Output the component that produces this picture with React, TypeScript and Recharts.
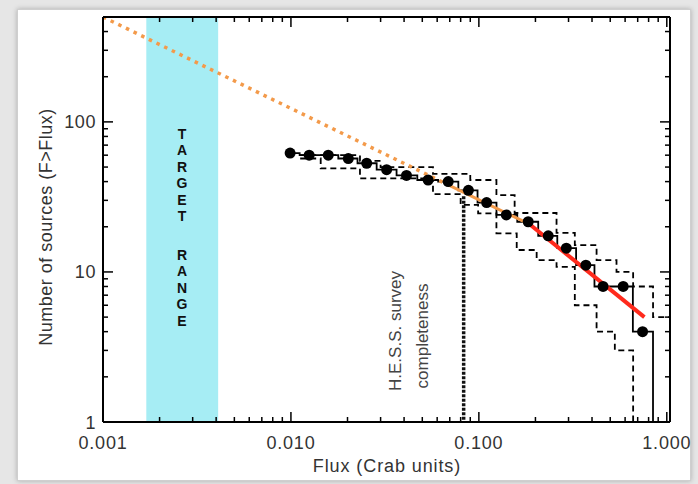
import React from 'react';
import { ComposedChart, Line, Scatter, XAxis, YAxis, ReferenceArea } from 'recharts';

// cumulative source counts N(>F)
const pointFlux = [0.0099, 0.0125, 0.0158, 0.0202, 0.0253, 0.0323, 0.0412, 0.0537, 0.0687, 0.088, 0.11, 0.14, 0.183, 0.234, 0.292, 0.371, 0.458, 0.586, 0.743];
const pointCount = [62, 60, 60, 57, 53, 48, 44, 41, 40, 35, 29, 24, 21.6, 17.4, 14.4, 11.1, 8, 8, 4];

// solid histogram closes down to the axis after the last source
const stepEndFlux = 0.96;
const stepEndCount = 1;

// dashed uncertainty envelopes (step edges)
const upperFlux = [0.0112, 0.0233, 0.03, 0.057, 0.09, 0.124, 0.155, 0.259, 0.324, 0.423, 0.54, 0.662, 0.845, 1.04];
const upperCount = [60, 55, 50, 45, 41, 32.5, 24.7, 18.2, 15.1, 12, 10, 8, 5, 5];
const lowerFlux = [0.0112, 0.0144, 0.0233, 0.057, 0.08, 0.0991, 0.124, 0.159, 0.203, 0.259, 0.324, 0.423, 0.529, 0.662, 0.7];
const lowerCount = [57, 49, 42, 33, 28, 24.6, 18.1, 14, 12, 10.8, 6, 4, 3, 1, 1];

// power-law fits
const extrapFlux = [0.001, 0.07];
const extrapCount = [500, 37.6];
const fitLowFlux = [0.07, 0.18];
const fitLowCount = [37.6, 21.2];
const fitHighFlux = [0.18, 0.76];
const fitHighCount = [21.5, 5.0];

// H.E.S.S. completeness limit
const completenessFlux = [0.083, 0.083];
const completenessCount = [32, 1];

// target range band
const targetRange = [0.0017, 0.0041];

const xTicks = [
  0.001, 0.002, 0.003, 0.004, 0.005, 0.006, 0.007, 0.008, 0.009,
  0.01, 0.02, 0.03, 0.04, 0.05, 0.06, 0.07, 0.08, 0.09,
  0.1, 0.2, 0.3, 0.4, 0.5, 0.6, 0.7, 0.8, 0.9, 1,
];
const yTicks = [1, 2, 3, 4, 5, 6, 7, 8, 9, 10, 20, 30, 40, 50, 60, 70, 80, 90, 100, 200, 300, 400];

const rows = (xs: number[], ys: number[]) => xs.map((x, i) => ({ x, y: ys[i] }));

const FONT = '"Liberation Sans", Arial, sans-serif';
const isMajor = (v: number) => Math.abs(Math.log10(v) - Math.round(Math.log10(v))) < 1e-6;

const BottomTick = (props: any) => {
  const { x, y, payload } = props;
  const major = isMajor(payload.value);
  return (
    <g>
      <line x1={x} y1={y} x2={x} y2={y - (major ? 10 : 5)} stroke="#000" strokeWidth={1.5} />
      {major && (
        <text x={x} y={y + 27} textAnchor="middle" fontSize={18} letterSpacing={0.8} fill="#333" fontFamily={FONT}>
          {payload.value.toFixed(3)}
        </text>
      )}
    </g>
  );
};

const TopTick = (props: any) => {
  const { x, y, payload } = props;
  const major = isMajor(payload.value);
  return <line x1={x} y1={y} x2={x} y2={y + (major ? 10 : 5)} stroke="#000" strokeWidth={1.5} />;
};

const LeftTick = (props: any) => {
  const { x, y, payload } = props;
  const major = isMajor(payload.value);
  return (
    <g>
      <line x1={x} y1={y} x2={x + (major ? 10 : 5)} y2={y} stroke="#000" strokeWidth={1.5} />
      {major && (
        <text x={x - 7} y={y + 6.5} textAnchor="end" fontSize={18} letterSpacing={0.6} fill="#333" fontFamily={FONT}>
          {payload.value}
        </text>
      )}
    </g>
  );
};

const RightTick = (props: any) => {
  const { x, y, payload } = props;
  const major = isMajor(payload.value);
  return <line x1={x} y1={y} x2={x - (major ? 10 : 5)} y2={y} stroke="#000" strokeWidth={1.5} />;
};

const Dot = (p: any) => <circle cx={p.cx} cy={p.cy} r={5.5} fill="#000" />;

const axisLine = { stroke: '#000', strokeWidth: 2 };

export default function App() {
  const target = 'TARGET';
  const range = 'RANGE';
  return (
    <div style={{ position: 'absolute', left: 0, top: 0, width: 698, height: 484, background: '#e6e6e6', overflow: 'hidden' }}>
      <div
        style={{
          position: 'absolute', left: 17, top: 9, width: 672, height: 470,
          background: '#fff', border: '1px solid #cfcfcf', boxShadow: '0 0 5px rgba(0,0,0,0.25)',
        }}
      />
      <div style={{ position: 'absolute', left: 0, top: 0 }}>
        <ComposedChart width={698} height={484} margin={{ top: 16, right: 27, bottom: 61, left: 0 }}>
          <XAxis xAxisId="b" dataKey="x" type="number" scale="log" domain={[0.001, 1.04]} allowDataOverflow
            ticks={xTicks} interval={0} tick={<BottomTick />} tickLine={false} tickSize={0} tickMargin={0}
            height={1} axisLine={axisLine} />
          <XAxis xAxisId="t" orientation="top" dataKey="x" type="number" scale="log" domain={[0.001, 1.04]} allowDataOverflow
            ticks={xTicks} interval={0} tick={<TopTick />} tickLine={false} tickSize={0} tickMargin={0}
            height={1} axisLine={axisLine} />
          <YAxis yAxisId="l" dataKey="y" type="number" scale="log" domain={[1, 500]} allowDataOverflow
            ticks={yTicks} interval={0} tick={<LeftTick />} tickLine={false} tickSize={0} tickMargin={0}
            width={103} axisLine={axisLine} />
          <YAxis yAxisId="r" orientation="right" dataKey="y" type="number" scale="log" domain={[1, 500]} allowDataOverflow
            ticks={yTicks} interval={0} tick={<RightTick />} tickLine={false} tickSize={0} tickMargin={0}
            width={1} axisLine={axisLine} />

          <ReferenceArea xAxisId="b" yAxisId="l" x1={targetRange[0]} x2={targetRange[1]} y1={1} y2={500}
            fill="#a6edf4" fillOpacity={1} stroke="none" />

          <Line xAxisId="b" yAxisId="l" data={rows(upperFlux, upperCount)} dataKey="y" type="stepAfter"
            stroke="#000" strokeWidth={1.8} strokeDasharray="6 4" dot={false} isAnimationActive={false} />
          <Line xAxisId="b" yAxisId="l" data={rows(lowerFlux, lowerCount)} dataKey="y" type="stepAfter"
            stroke="#000" strokeWidth={1.8} strokeDasharray="6 4" dot={false} isAnimationActive={false} />
          <Line xAxisId="b" yAxisId="l" data={rows([...pointFlux, stepEndFlux], [...pointCount, stepEndCount])}
            dataKey="y" type="step" stroke="#000" strokeWidth={1.8} dot={false} isAnimationActive={false} />
          <Line xAxisId="b" yAxisId="l" data={rows(completenessFlux, completenessCount)} dataKey="y" type="linear"
            stroke="#111" strokeWidth={3.5} strokeDasharray="3 1.5" dot={false} isAnimationActive={false} />

          <Scatter xAxisId="b" yAxisId="l" data={rows(pointFlux, pointCount)} dataKey="y" shape={Dot}
            isAnimationActive={false} />

          <Line xAxisId="b" yAxisId="l" data={rows(extrapFlux, extrapCount)} dataKey="y" type="linear"
            stroke="#f39a4a" strokeWidth={3.5} strokeDasharray="3.5 5" dot={false} isAnimationActive={false} />
          <Line xAxisId="b" yAxisId="l" data={rows(fitLowFlux, fitLowCount)} dataKey="y" type="linear"
            stroke="#f39a4a" strokeWidth={3} dot={false} isAnimationActive={false} />
          <Line xAxisId="b" yAxisId="l" data={rows(fitHighFlux, fitHighCount)} dataKey="y" type="linear"
            stroke="#ff2a1c" strokeWidth={4} dot={false} isAnimationActive={false} />
        </ComposedChart>
      </div>
      <svg width={698} height={484} style={{ position: 'absolute', left: 0, top: 0, pointerEvents: 'none' }}>
        <g fontFamily={FONT}>
          {target.split('').map((c, i) => (
            <text key={'t' + i} x={182} y={139 + i * 16.4} textAnchor="middle" fontSize={14} fontWeight="bold" fill="#111">{c}</text>
          ))}
          {range.split('').map((c, i) => (
            <text key={'r' + i} x={182} y={260 + i * 16.4} textAnchor="middle" fontSize={14} fontWeight="bold" fill="#111">{c}</text>
          ))}
          <text transform="translate(401,331) rotate(-90)" textAnchor="middle" fontSize={17} fill="#444">H.E.S.S. survey</text>
          <text transform="translate(428,336) rotate(-90)" textAnchor="middle" fontSize={17} fill="#444">completeness</text>
          <text transform="translate(52,227) rotate(-90)" textAnchor="middle" fontSize={18} letterSpacing={0.5} fill="#333">Number of sources (F&gt;Flux)</text>
          <text x={387} y={472} textAnchor="middle" fontSize={18} letterSpacing={0.9} fill="#333">Flux (Crab units)</text>
        </g>
      </svg>
    </div>
  );
}
